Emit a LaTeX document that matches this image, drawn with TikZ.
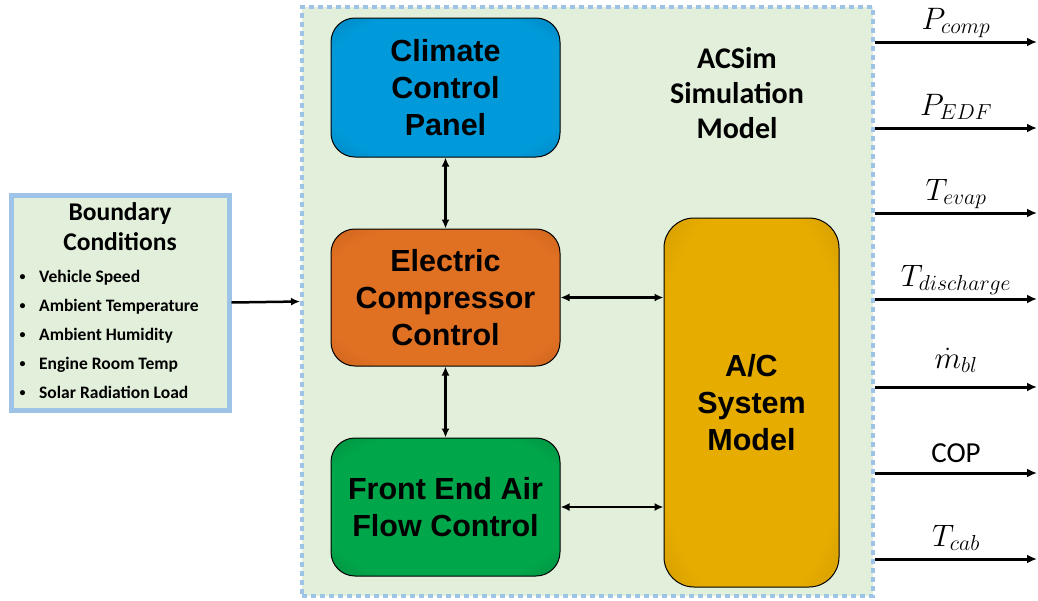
\documentclass[tikz,border=0pt]{standalone}
\usepackage{fix-cm}
\usepackage{fontspec}
\setmainfont{Liberation Sans}
\newfontfamily\calibri{Carlito}
\usetikzlibrary{arrows.meta}
\definecolor{bgreen}{RGB}{226,239,218}
\definecolor{bblue}{RGB}{157,195,230}
\definecolor{blueM}{RGB}{0,154,218}
\definecolor{blueE}{RGB}{0,95,145}
\definecolor{orangeM}{RGB}{224,112,34}
\definecolor{orangeE}{RGB}{160,76,24}
\definecolor{greenM}{RGB}{0,166,74}
\definecolor{greenE}{RGB}{0,105,48}
\definecolor{goldM}{RGB}{230,172,0}
\definecolor{goldE}{RGB}{180,130,0}
\colorlet{mainc}{white}
\colorlet{edgec}{black}
\pgfdeclareradialshading[mainc,edgec]{edgeshade}{\pgfpointorigin}{color(0bp)=(mainc); color(28bp)=(mainc); color(50bp)=(edgec); color(72bp)=(edgec)}
\begin{document}
\begin{tikzpicture}[x=1pt,y=-1pt,
  setshade/.code 2 args={\colorlet{mainc}{#1}\colorlet{edgec}{#2}},
  blockbox/.style={draw=black, line width=1pt, rounded corners=24pt, shade, shading=edgeshade,
    font=\fontsize{30.5}{37}\selectfont\bfseries, align=center, text=black},
  dbl/.style={{Latex[length=9pt,width=8pt]}-{Latex[length=9pt,width=8pt]}, line width=2.5pt},
  outarrow/.style={-{Latex[length=10pt,width=9pt]}, line width=3pt},
  outlabel/.style={anchor=base, yshift=13pt, inner sep=0pt, font=\fontsize{31}{34}\selectfont},
  bullettext/.style={anchor=base west, inner sep=0pt, font=\calibri\bfseries\fontsize{17.5}{20}\selectfont},
  bulletdot/.style={anchor=base, inner sep=0pt, font=\calibri\bfseries\fontsize{12}{14}\selectfont}
]
\useasboundingbox (0,0) rectangle (1038,600);

% outer simulation model box
\node[draw=bblue, fill=bgreen, line width=4pt, dash pattern=on 5pt off 4pt,
      minimum width=571pt, minimum height=589pt, inner sep=0pt] (outer) at (587.5,301.5) {};

% boundary conditions box
\node[draw=bblue, fill=bgreen, line width=5pt, minimum width=218pt, minimum height=215pt, inner sep=0pt]
  (bc) at (120,302.5) {};
\node[anchor=base, inner sep=0pt, font=\calibri\bfseries\fontsize{25.5}{28}\selectfont] (bct1) at (120,220) {Boundary};
\node[anchor=base, inner sep=0pt, font=\calibri\bfseries\fontsize{25.5}{28}\selectfont] (bct2) at (120,250) {Conditions};
\foreach \t [count=\i] in {Vehicle Speed, Ambient Temperature, Ambient Humidity, Engine Room Temp, Solar Radiation Load}{
  \node[bulletdot] (bd\i) at (22.5,{280+29*(\i-1)}) {\textbullet};
  \node[bullettext] (bt\i) at (39,{282+29*(\i-1)}) {\t};
}

% title
\node[align=center, font=\calibri\bfseries\fontsize{30}{35}\selectfont, inner sep=0pt] (title) at (737,93)
  {ACSim\\Simulation\\Model};

% blocks
\node[blockbox, setshade={blueM}{blueE}, minimum width=229pt, minimum height=139pt] (clim) at (445.5,87.5)
  {Climate\\Control\\Panel};
\node[blockbox, setshade={orangeM}{orangeE}, minimum width=229pt, minimum height=137pt] (elec) at (445.5,297.5)
  {Electric\\Compressor\\Control};
\node[blockbox, setshade={greenM}{greenE}, minimum width=229pt, minimum height=138pt] (front) at (445.5,507)
  {Front End Air\\Flow Control};
\node[blockbox, setshade={goldM}{goldE}, rounded corners=30pt, minimum width=175pt, minimum height=369pt] (ac) at (751.5,402.5)
  {A/C\\System\\Model};

% internal connectors
\draw[dbl] (clim.south) -- (elec.north);
\draw[dbl] (elec.south) -- (front.north);
\draw[dbl] (elec.east) -- (elec.east -| ac.west);
\draw[dbl] (front.east) -- (front.east -| ac.west);

% input arrow
\draw[-{Latex[length=9pt,width=8pt]}, line width=2.5pt] (bc.east) -- (outer.west);

% outputs
\coordinate (o1) at (1037,42);
\coordinate (o2) at (1037,128);
\coordinate (o3) at (1037,213);
\coordinate (o4) at (1037,299);
\coordinate (o5) at (1037,387);
\coordinate (o6) at (1037,473);
\coordinate (o7) at (1037,559);
\draw[outarrow] (outer.east |- o1) -- node[outlabel] {$P_{comp}$} (o1);
\draw[outarrow] (outer.east |- o2) -- node[outlabel] {$P_{EDF}$} (o2);
\draw[outarrow] (outer.east |- o3) -- node[outlabel] {$T_{evap}$} (o3);
\draw[outarrow] (outer.east |- o4) -- node[outlabel] {$T_{discharge}$} (o4);
\draw[outarrow] (outer.east |- o5) -- node[outlabel, yshift=6pt] {$\dot{m}_{bl}$} (o5);
\draw[outarrow] (outer.east |- o6) -- node[outlabel, yshift=-2pt, font=\calibri\fontsize{29}{32}\selectfont] {COP} (o6);
\draw[outarrow] (outer.east |- o7) -- node[outlabel] {$T_{cab}$} (o7);
\end{tikzpicture}
\end{document}
